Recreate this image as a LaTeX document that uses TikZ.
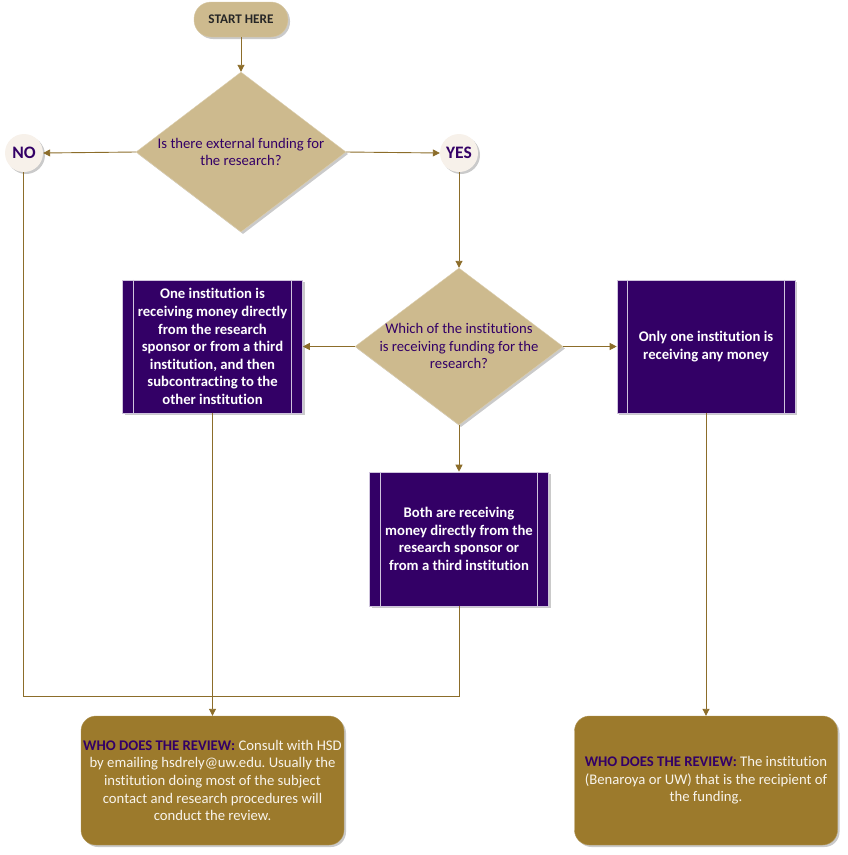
\documentclass[tikz,border=0pt]{standalone}
\usepackage{fontspec}
\setmainfont{Carlito}[Ligatures=NoCommon]
\frenchspacing
\usetikzlibrary{shapes.geometric,shadows,arrows.meta}
\definecolor{uwtan}{HTML}{CDBA8E}
\definecolor{uwline}{HTML}{8C6D2A}
\definecolor{uwgold}{HTML}{9C7A2C}
\definecolor{uwpurple}{HTML}{330066}
\definecolor{uwcircle}{HTML}{F7F1EA}
\definecolor{uwpline}{HTML}{CFC4DD}
\definecolor{uwwhite}{HTML}{F8F4EC}
\begin{document}
\begin{tikzpicture}[x=1pt,y=-1pt,
  shad/.style={drop shadow={shadow xshift=2pt, shadow yshift=-2pt, opacity=0.35, fill=black!60}},
  conn/.style={draw=uwline, line width=0.9pt},
  arr/.style={conn, -{Triangle[length=7pt,width=7pt]}},
  txt/.style={font=\fontsize{14.7}{17.6}\selectfont, align=center},
  startbox/.style={shad, fill=uwtan, draw=uwtan!80!white, rounded corners=17pt, minimum width=94pt, minimum height=35pt, inner sep=0pt, font=\fontsize{13.2}{15}\selectfont\bfseries, text=black!85},
  decision/.style={shad, diamond, fill=uwtan, draw=uwtan!70!white, inner sep=0pt},
  answer/.style={shad, circle, fill=uwcircle, minimum size=38pt, inner sep=0pt, font=\fontsize{17.5}{19}\selectfont\bfseries, text=uwpurple},
  pbox/.style={shad, rectangle, fill=uwpurple, draw=uwpline, line width=0.6pt, inner sep=0pt, txt, font=\fontsize{14.7}{17.6}\selectfont\bfseries, text=white},
  pline/.style={draw=uwpline, line width=0.8pt},
  endbox/.style={shad, rectangle, rounded corners=15pt, fill=uwgold, draw=uwgold!80!white, minimum width=263pt, minimum height=129pt, inner sep=0pt, txt, text=uwwhite}
]
\useasboundingbox (0,0) rectangle (848,855);

% start
\node[startbox] (start) at (241,19.5) {START HERE};

% decision 1
\node[decision, minimum width=210pt, minimum height=160pt] (d1) at (241,152) {};
\node[txt, text=uwpurple] (d1t) at (241,152) {Is there external funding for\\the research?};

% answers
\node[answer] (no) at (24,153) {NO};
\node[answer] (yes) at (459,153) {YES};

% decision 2
\node[decision, minimum width=208pt, minimum height=157pt] (d2) at (459,346.5) {};
\node[txt, text=uwpurple] (d2t) at (459,346) {Which of the institutions\\is receiving funding for the\\research?};

% process boxes
\node[pbox, minimum width=180pt, minimum height=133pt] (L) at (212.5,346.5) {One institution is\\receiving money directly\\from the research\\sponsor or from a third\\institution, and then\\subcontracting to the\\other institution};
\node[pbox, minimum width=178pt, minimum height=133pt] (R) at (706,346.5) {Only one institution is\\receiving any money};
\node[pbox, minimum width=179pt, minimum height=134pt] (M) at (459,539) {Both are receiving\\money directly from the\\research sponsor or\\from a third institution};
\foreach \b in {L,R,M}{
  \draw[pline] ([xshift=11pt]\b.north west) -- ([xshift=11pt]\b.south west);
  \draw[pline] ([xshift=-11pt]\b.north east) -- ([xshift=-11pt]\b.south east);
}

% end boxes
\node[endbox] (BL) at (212.5,780.5) {\textcolor{uwpurple}{\textbf{WHO DOES THE REVIEW:}} Consult with HSD\\by emailing hsdrely@uw.edu. Usually the\\institution doing most of the subject\\contact and research procedures will\\conduct the review.};
\node[endbox] (BR) at (706,780.5) {\textcolor{uwpurple}{\textbf{WHO DOES THE REVIEW:}} The institution\\(Benaroya or UW) that is the recipient of\\the funding.};

% connectors
\draw[arr] (start.south) -- (d1.north);
\draw[arr] (d1.west) -- (no.east);
\draw[arr] (d1.east) -- (yes.west);
\draw[arr] (yes.south) -- (d2.north);
\draw[arr] (d2.west) -- (L.east);
\draw[arr] (d2.east) -- (R.west);
\draw[arr] (d2.south) -- (M.north);
\coordinate (jl) at (23,696);
\coordinate (jr) at (459,696);
\draw[conn] (no.south -| jl) -- (jl) -- (jr) -- (M.south);
\draw[arr] (L.south) -- (BL.north);
\draw[arr] (R.south) -- (BR.north);
\end{tikzpicture}
\end{document}
